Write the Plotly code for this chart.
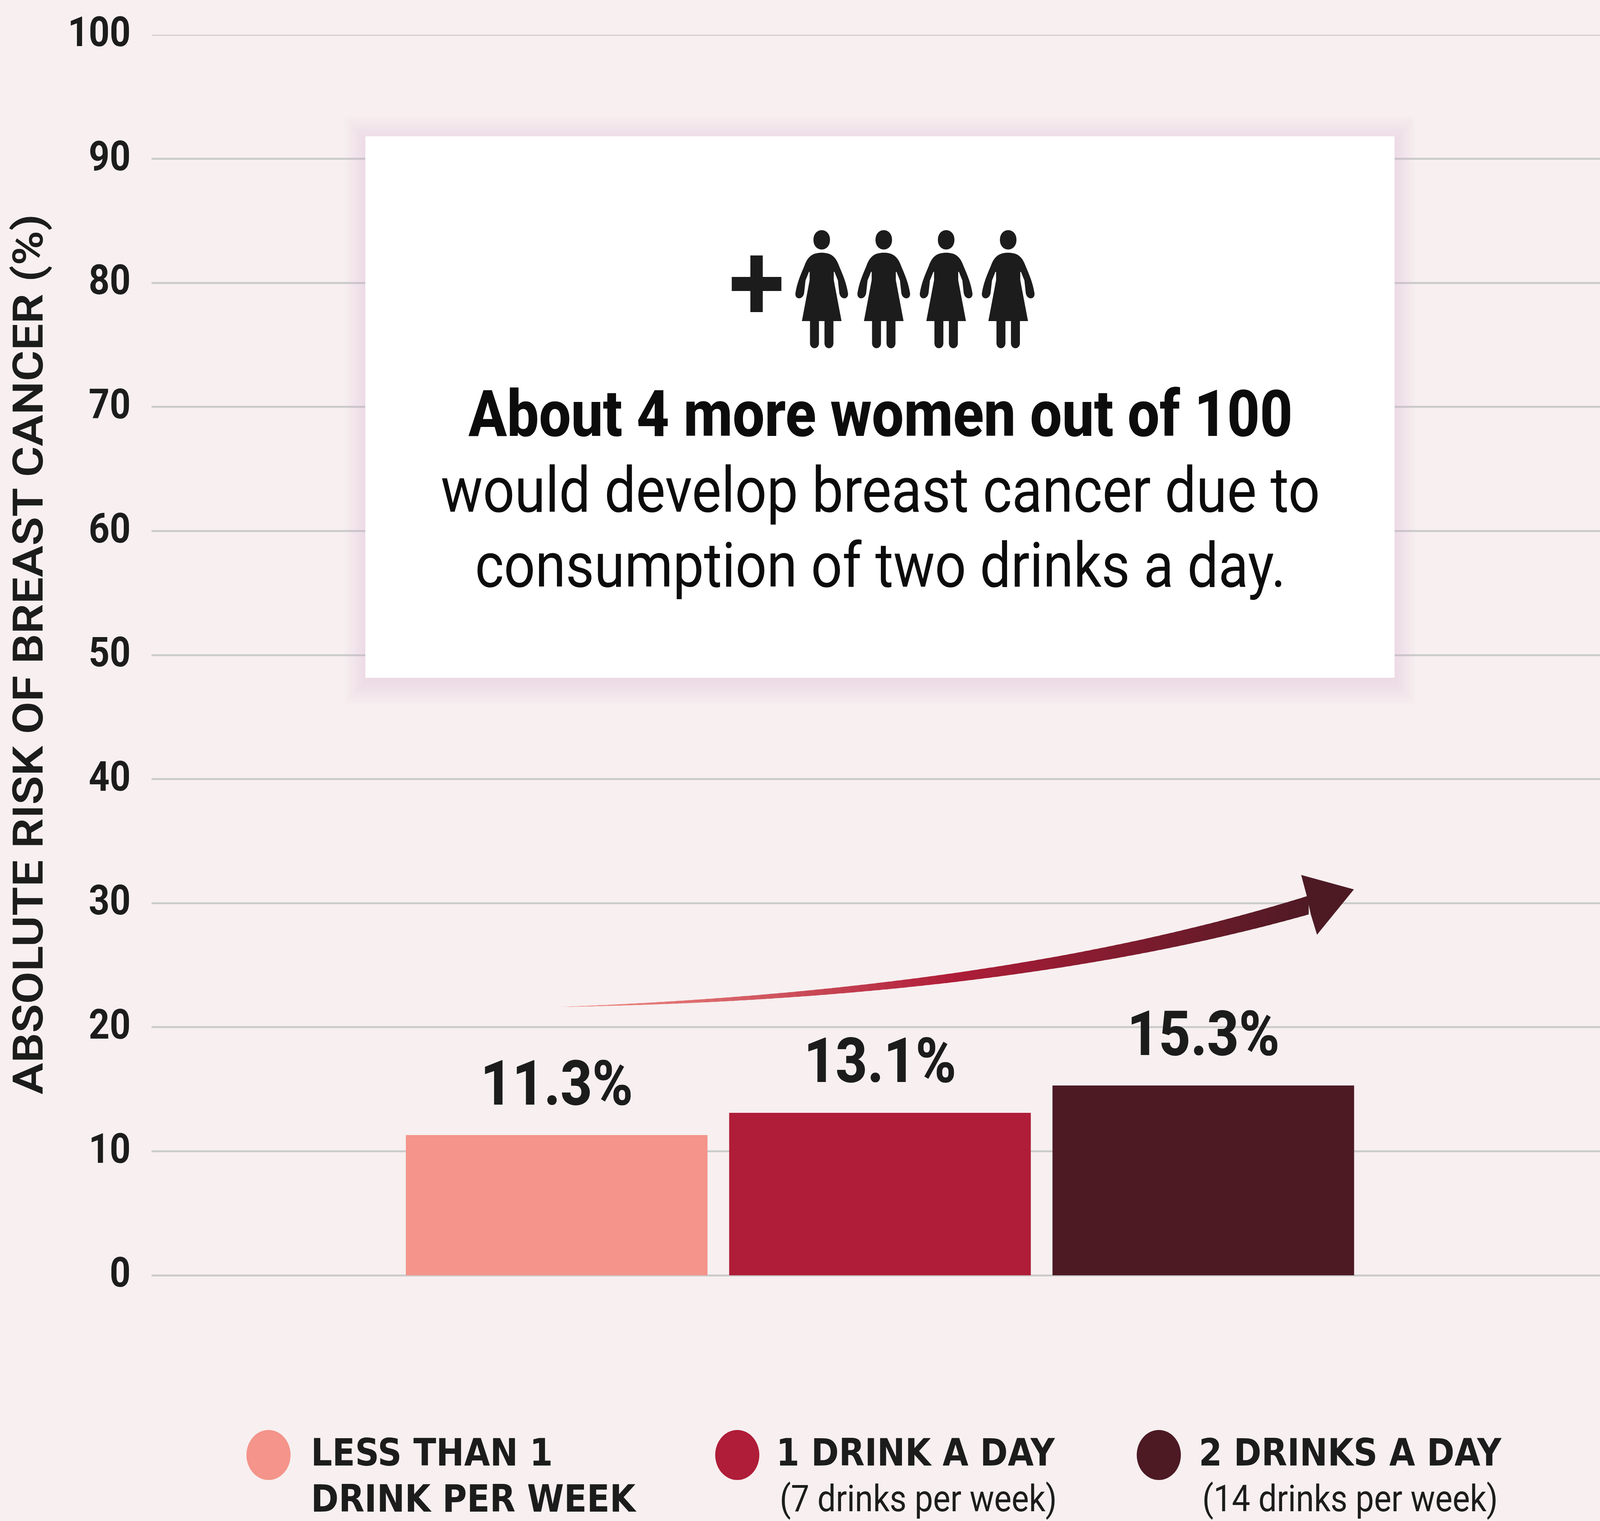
import plotly.graph_objects as go

W, H = 4642, 3894
L, R, T, B = 440, 4642, 89, 3265

categories = ["Less than 1 drink per week", "1 drink a day", "2 drinks a day"]
values = [11.3, 13.1, 15.3]
value_labels = ["11.3%", "13.1%", "15.3%"]
bar_colors = ["#F4948A", "#AF1D38", "#4D1A24"]
y_ticks = [0, 10, 20, 30, 40, 50, 60, 70, 80, 90, 100]
y_title = "ABSOLUTE RISK OF BREAST CANCER (%)"
callout_bold = "About 4 more women out of 100"
callout_lines = ["would develop breast cancer due to", "consumption of two drinks a day."]
legend_line1 = ["LESS THAN 1", "1 DRINK A DAY", "2 DRINKS A DAY"]
legend_line2 = ["DRINK PER WEEK", "(7 drinks per week)", "(14 drinks per week)"]

FONT = "Roboto"
LEGEND_CAPS_FONT = "DejaVu Sans"
INK = "#1C1C1C"
BLACK = "#0C0C0C"
BG = "#F7EFF0"
GRID = "#CBCBCB"


def px(x):
    return (x - L) / (R - L)


def py(y):
    return 1 - (y - T) / (B - T)


def pth(cmds):
    out = []
    for c in cmds:
        if isinstance(c, str):
            out.append(c)
        else:
            out.append(f"{px(c[0]):.6f},{py(c[1]):.6f}")
    return " ".join(out)


shapes = []

# top gridline (Plotly drops the gridline lying on the axis end)
shapes.append(dict(type="line", xref="paper", yref="y", x0=0, x1=1, y0=100, y1=100,
                   line=dict(color=GRID, width=5), layer="below"))


def add_path(cmds, color):
    shapes.append(dict(type="path", xref="paper", yref="paper", path=pth(cmds),
                       fillcolor=color, line=dict(width=0), layer="above"))


# callout soft shadow + box
for grow in range(60, 0, -6):
    shapes.append(dict(type="rect", xref="paper", yref="paper",
                       x0=px(1060 - grow), x1=px(4046 + grow), y0=py(1735 + grow + 8), y1=py(349 - grow + 8),
                       fillcolor="#E8B9C4", opacity=0.025, line=dict(width=0), layer="above"))
shapes.append(dict(type="rect", xref="paper", yref="paper", x0=px(1060), x1=px(4046), y0=py(1735), y1=py(349),
                   fillcolor="#FFFFFF", line=dict(width=0), layer="above"))

# plus sign
add_path(["M", (2177, 654), "L", (2213, 654), "L", (2213, 709), "L", (2267, 709), "L", (2267, 745), "L", (2213, 745),
          "L", (2213, 799), "L", (2177, 799), "L", (2177, 745), "L", (2123, 745), "L", (2123, 709), "L", (2177, 709), "Z"], INK)


def woman(c):
    def p(dx, y):
        return (c + dx, y)
    # head
    add_path(["M", p(-24, 614), "C", p(-24, 581), p(24, 581), p(24, 614), "C", p(24, 647), p(-24, 647), p(-24, 614), "Z"], INK)
    cmds = ["M", p(0, 647), "C", p(24, 647), p(40, 655), p(50, 680),
            "C", p(62, 705), p(72, 725), p(76.5, 752),
            "C", p(77, 768), p(54, 768), p(51, 750),
            "L", p(47, 718), "L", p(37, 696), "L", p(35, 696), "L", p(35, 717), "L", p(57.5, 822),
            "L", p(34, 822), "L", p(34, 878), "C", p(34, 896), p(8, 896), p(8, 878), "L", p(8, 822),
            "L", p(-8, 822), "L", p(-8, 878), "C", p(-8, 896), p(-34, 896), p(-34, 878), "L", p(-34, 822),
            "L", p(-57.5, 822), "L", p(-35, 717), "L", p(-35, 696), "L", p(-37, 696), "L", p(-47, 718), "L", p(-51, 750),
            "C", p(-54, 768), p(-77, 768), p(-76.5, 752),
            "C", p(-72, 725), p(-62, 705), p(-50, 680),
            "C", p(-40, 655), p(-24, 647), p(0, 647), "Z"]
    add_path(cmds, INK)


for cx in [2384, 2564, 2745, 2925]:
    woman(cx)


# gradient arrow
def lerp_color(c0, c1, u):
    a = [int(c0[i:i + 2], 16) for i in (1, 3, 5)]
    b = [int(c1[i:i + 2], 16) for i in (1, 3, 5)]
    return "#%02X%02X%02X" % tuple(round(a[i] + (b[i] - a[i]) * u) for i in range(3))


P0, C1, P2 = (1620, 2578), (2921, 2547), (3797, 2317)
N = 90


def spine(t):
    x = (1 - t) ** 2 * P0[0] + 2 * t * (1 - t) * C1[0] + t * t * P2[0]
    y = (1 - t) ** 2 * P0[1] + 2 * t * (1 - t) * C1[1] + t * t * P2[1]
    return x, y


for i in range(N):
    t0, t1 = i / N, min(1, (i + 1.6) / N)
    x0, y0 = spine(t0)
    x1, y1 = spine(t1)
    h0, h1 = 24 * t0, 24 * t1
    t = (x0 - P0[0]) / (P2[0] - P0[0])
    col = lerp_color(bar_colors[0], bar_colors[1], t / 0.52) if t < 0.52 else lerp_color(bar_colors[1], bar_colors[2], (t - 0.52) / 0.48)
    add_path(["M", (x0, y0 - h0), "L", (x1, y1 - h1), "L", (x1, y1 + h1), "L", (x0, y0 + h0), "Z"], col)
add_path(["M", (3775, 2240), "L", (3928, 2277), "L", (3821, 2393), "L", (3803, 2341), "L", (3791, 2293), "Z"], bar_colors[2])

# legend dots
legend_cx = [779, 2139, 3362]
legend_tx = [900, 2250, 3476]
for cx, col in zip(legend_cx, bar_colors):
    shapes.append(dict(type="circle", xref="paper", yref="paper", x0=px(cx - 64), x1=px(cx + 64), y0=py(3725 + 64), y1=py(3725 - 64),
                       fillcolor=col, line=dict(width=0), layer="above"))

annotations = []


def note(text, x, y, size, weight, anchor="center", color=INK, family=FONT):
    annotations.append(dict(text=text, xref="paper", yref="paper", x=px(x), y=py(y), xanchor=anchor, yanchor="middle",
                            showarrow=False, font=dict(family=family, size=size, color=color, weight=weight)))


note(callout_bold, 2554, 1060, 165, 800, color=BLACK)
note(callout_lines[0], 2554, 1255, 162, 400, color=BLACK)
note(callout_lines[1], 2554, 1447, 160, 400, color=BLACK)
note(y_title, 83, 1675, 121, 600)
annotations[-1]["textangle"] = -90
for i in range(3):
    note(legend_line1[i], legend_tx[i], 3718, 97, 700, "left", family=LEGEND_CAPS_FONT)
    if i == 0:
        note(legend_line2[i], legend_tx[i], 3836, 97, 700, "left", family=LEGEND_CAPS_FONT)
    else:
        note(legend_line2[i], legend_tx[i] + 10, 3836, 95, 400, "left")

# value labels, anchored to the bars through the data axes
for i, (v, lab) in enumerate(zip(values, value_labels)):
    annotations.append(dict(text=lab, x=i, y=v, xref="x", yref="y", yshift=133, xanchor="center", yanchor="middle",
                            showarrow=False, font=dict(family=FONT, size=160, color=INK, weight=800)))

fig = go.Figure()
fig.add_trace(go.Bar(x=[0, 1, 2], y=values, marker=dict(color=bar_colors, line=dict(width=0)), width=0.933,
                     hoverinfo="skip", customdata=categories))
fig.update_layout(
    width=W, height=H, margin=dict(l=L, r=W - R, t=T, b=H - B, autoexpand=False),
    paper_bgcolor=BG, plot_bgcolor=BG, showlegend=False, shapes=shapes, annotations=annotations,
    xaxis=dict(range=[-1.2527, 3.227], showgrid=False, zeroline=False, showticklabels=False, ticks=""),
    yaxis=dict(range=[0, 100], tickvals=y_ticks, showgrid=True, gridcolor=GRID, gridwidth=5, zeroline=True, zerolinecolor=GRID,
               zerolinewidth=5, showline=False, ticks="", ticklabelstandoff=60, ticklabelshift=-8,
               tickfont=dict(family=FONT, size=106, color=INK, weight=700)),
)
# The sandbox browser caps its window at 4096 px wide, which would clip a 4642 px figure.
# Fit the figure to whatever window is really available (scale stays 1 if the full size is given).
fit = """
var gd=document.querySelector('.plotly-graph-div');
document.documentElement.style.overflow='hidden';
document.body.style.margin='0';
document.body.style.overflow='hidden';
gd.style.transformOrigin='0 0';
gd.style.transform='scale('+Math.min(1,window.innerWidth/%d)+','+Math.min(1,window.innerHeight/%d)+')';
""" % (W, H)
fig.write_html("out.html", post_script=fit, config={"displayModeBar": False})
